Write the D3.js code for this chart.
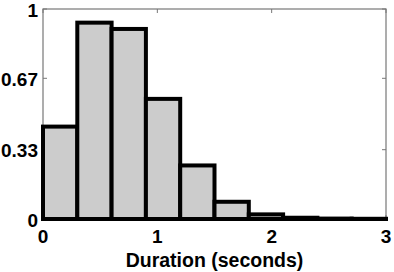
<!DOCTYPE html>
<meta charset="utf-8">
<style>
  body { margin: 0; background: #fff; }
  text { font-family: "Liberation Sans", Arial, sans-serif; font-weight: bold; fill: #000; }
  text.tick { font-size: 19px; }
  text.label { font-size: 19.5px; text-anchor: middle; }
</style>
<script src="https://d3js.org/d3.v7.min.js"></script>
<div id="chart"></div>
<script>
// histogram bins (seconds) and normalised counts
var binEdges = [0, 0.3, 0.6, 0.9, 1.2, 1.5, 1.8, 2.1, 2.4, 2.7, 3.0];
var binHeights = [0.44, 0.935, 0.905, 0.572, 0.255, 0.082, 0.022, 0.006, 0.002, 0.001];
var xTicks = [0, 1, 2, 3];
var yTicks = [0, 0.33, 0.67, 1];
var yTickLabels = ["0", "0.33", "0.67", "1"];

var W = 394, H = 272;
var margin = {top: 9, right: 8, bottom: 53, left: 43};

var svg = d3.select("#chart").append("svg")
    .attr("width", W)
    .attr("height", H);

var x = d3.scaleLinear().domain([0, 3]).range([margin.left, W - margin.right]);
var y = d3.scaleLinear().domain([0, 1]).range([H - margin.bottom, margin.top]);

// box
svg.append("rect")
    .attr("x", x(0)).attr("y", y(1))
    .attr("width", x(3) - x(0)).attr("height", y(0) - y(1))
    .attr("fill", "none").attr("stroke", "#777").attr("stroke-width", 1.2);

// tick marks (inward, both sides)
var tl = 4;
xTicks.forEach(function(t) {
  svg.append("line").attr("x1", x(t)).attr("x2", x(t)).attr("y1", y(0)).attr("y2", y(0) - tl)
    .attr("stroke", "#777");
  svg.append("line").attr("x1", x(t)).attr("x2", x(t)).attr("y1", y(1)).attr("y2", y(1) + tl)
    .attr("stroke", "#777");
});
yTicks.forEach(function(t) {
  svg.append("line").attr("x1", x(0)).attr("x2", x(0) + tl).attr("y1", y(t)).attr("y2", y(t))
    .attr("stroke", "#777");
  svg.append("line").attr("x1", x(3)).attr("x2", x(3) - tl).attr("y1", y(t)).attr("y2", y(t))
    .attr("stroke", "#777");
});

// bars
var bins = binHeights.map(function(h, i) { return {x0: binEdges[i], x1: binEdges[i + 1], h: h}; });
svg.append("g").selectAll("rect")
  .data(bins)
  .enter().append("rect")
    .attr("x", function(d) { return x(d.x0); })
    .attr("y", function(d) { return y(d.h); })
    .attr("width", function(d) { return x(d.x1) - x(d.x0); })
    .attr("height", function(d) { return y(0) - y(d.h); })
    .attr("fill", "#cccccc")
    .attr("stroke", "#000")
    .attr("stroke-width", 4)
    .attr("stroke-linejoin", "miter");

// tick labels
svg.append("g").selectAll("text")
  .data(xTicks)
  .enter().append("text")
    .attr("class", "tick")
    .attr("x", function(d) { return x(d); })
    .attr("y", y(0) + 24)
    .attr("text-anchor", "middle")
    .text(function(d) { return d; });

svg.append("g").selectAll("text")
  .data(yTicks)
  .enter().append("text")
    .attr("class", "tick")
    .attr("x", x(0) - 5)
    .attr("y", function(d) { return y(d) + 7.5; })
    .attr("text-anchor", "end")
    .text(function(d, i) { return yTickLabels[i]; });

svg.append("text")
    .attr("class", "label")
    .attr("x", (x(0) + x(3)) / 2)
    .attr("y", H - 5.5)
    .text("Duration (seconds)");
</script>
